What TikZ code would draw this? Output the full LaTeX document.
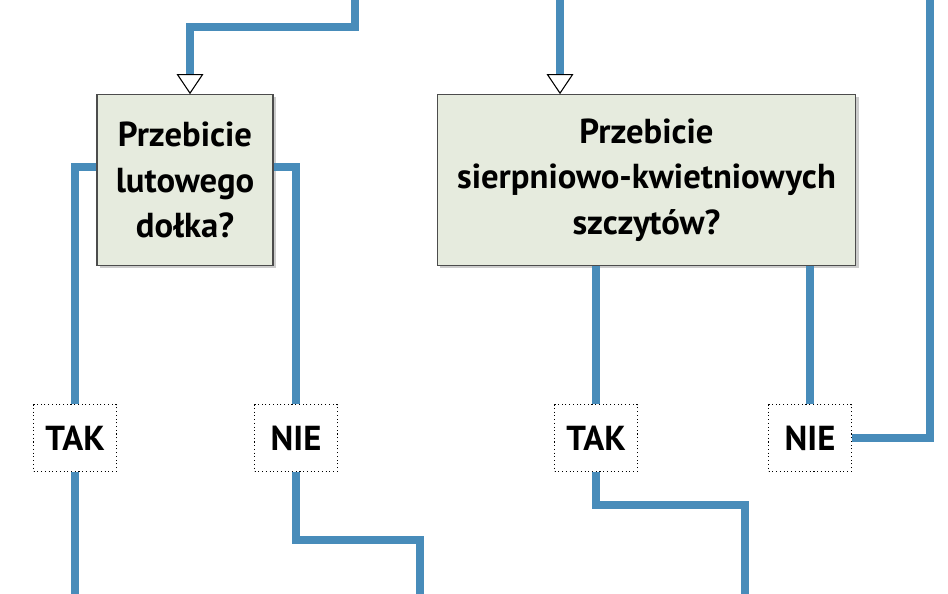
\documentclass[tikz,border=0pt]{standalone}
\usepackage{fontspec}
\setmainfont{PT Sans}
\usetikzlibrary{shadows,arrows.meta}
\definecolor{flowblue}{RGB}{72,140,186}
\definecolor{boxfill}{RGB}{230,235,222}

\begin{document}
\begin{tikzpicture}[x=0.75pt,y=-0.75pt,
    flow/.style={draw=flowblue,line width=6pt},
    tip/.style={-{Triangle[open,color=black,fill=white,length=15pt,width=20pt,line width=0.8pt]}},
    question/.style={rectangle,draw=black!70,fill=boxfill,thick,drop shadow={shadow xshift=2pt,shadow yshift=-2pt,opacity=0.4},
      align=center,inner sep=0pt,font=\bfseries\fontsize{26}{34}\selectfont},
    answer/.style={rectangle,draw=black,dotted,thick,fill=white,minimum width=62pt,minimum height=50pt,
      inner sep=0pt,font=\bfseries\fontsize{26}{30}\selectfont}]
\useasboundingbox (0,0) rectangle (948,593);

% questions
\node[question,minimum width=132pt,minimum height=128pt] (q1) at (185,180) {Przebicie\\lutowego\\dołka?};
\node[question,minimum width=314pt,minimum height=128pt] (q2) at (646.5,180) {Przebicie\\sierpniowo-kwietniowych\\szczytów?};

% answers
\node[answer] (tak1) at (75,438) {TAK};
\node[answer] (nie1) at (296,438) {NIE};
\node[answer] (tak2) at (596,438) {TAK};
\node[answer] (nie2) at (810,438) {NIE};

% free ends
\coordinate (in1) at (355,-5);
\coordinate (in2) at (560,-5);
\coordinate (in3) at (930,-5);
\coordinate (out1) at (75,600);
\coordinate (out2) at (420,600);
\coordinate (out3) at (745,600);

\draw[flow,tip] (in1) |- (190,27) -- (q1.north -| 190,0);
\draw[flow,tip] (in2) -- (q2.north -| 560,0);
\draw[flow] (q1.west |- 0,167) -| (tak1.north);
\draw[flow] (q1.east |- 0,167) -| (nie1.north);
\draw[flow] (q2.south -| tak2) -- (tak2.north);
\draw[flow] (q2.south -| nie2) -- (nie2.north);
\draw[flow] (in3) |- (nie2.east);
\draw[flow] (tak1.south) -- (out1);
\draw[flow] (nie1.south) |- (420,540) -- (out2);
\draw[flow] (tak2.south) |- (745,505) -- (out3);
\end{tikzpicture}
\end{document}
